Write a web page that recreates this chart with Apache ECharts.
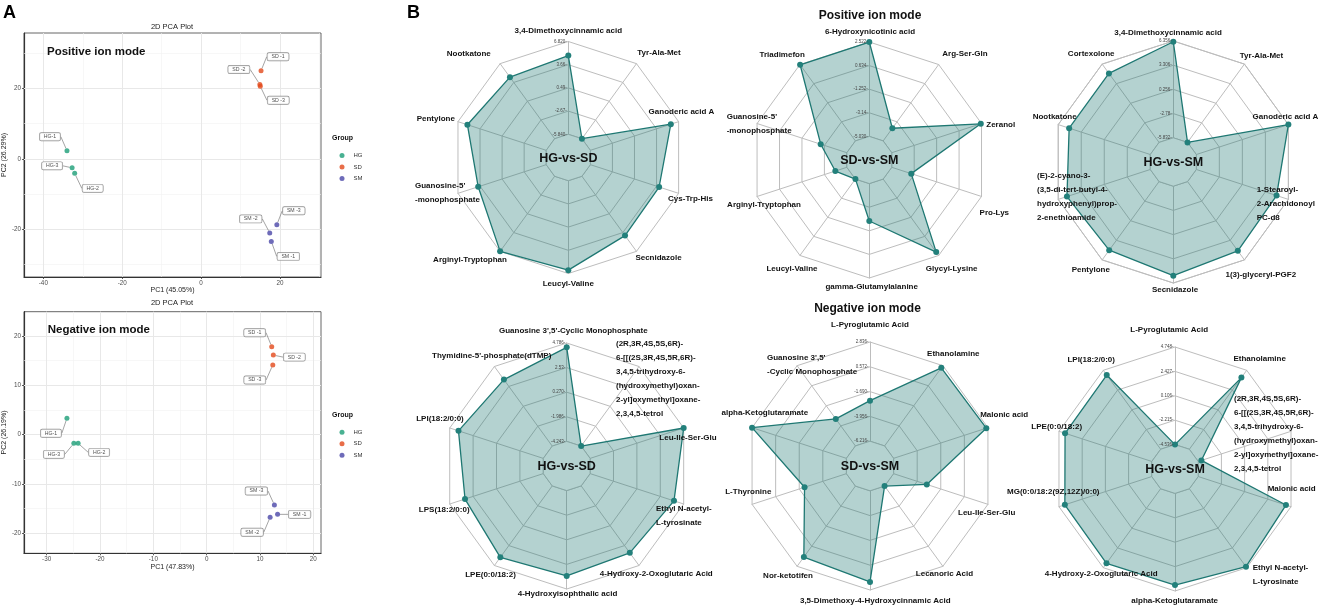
<!DOCTYPE html>
<html><head><meta charset="utf-8">
<script src="https://cdn.jsdelivr.net/npm/echarts@6/dist/echarts.min.js"></script>
<style>html,body{margin:0;padding:0;background:#fff}#c{width:1325px;height:609px}</style>
</head><body><div id="c"></div>
<script>
// ---------------- PCA data (panel A) ----------------
const groupNames = ['HG', 'SD', 'SM'];
const posHG = [[-34.0, 2.3], [-32.05, -4.1], [-32.7, -2.55]];
const posSD = [[15.2, 25.0], [14.9, 21.1], [15.0, 20.6]];
const posSM = [[17.8, -23.4], [17.4, -21.0], [19.2, -18.7]];
const negHG = [[-26.2, 3.3], [-24.1, -1.8], [-24.9, -1.8]];
const negSD = [[12.2, 17.8], [12.5, 16.1], [12.4, 14.1]];
const negSM = [[13.3, -16.2], [11.9, -16.8], [12.7, -14.3]];
const hgNames = ['HG-1', 'HG-2', 'HG-3'];
const sdNames = ['SD -1', 'SD -2', 'SD -3'];
const smNames = ['SM -1', 'SM -2', 'SM -3'];
const posXTicks = [-40, -20, 0, 20];
const posXMinor = [-30, -10, 10, 30];
const posYTicks = [-20, 0, 20];
const posYMinor = [-30, -10, 10, 30];
const negXTicks = [-30, -20, -10, 0, 10, 20];
const negXMinor = [-25, -15, -5, 5, 15];
const negYTicks = [-20, -10, 0, 10, 20];
const negYMinor = [-15, -5, 5, 15];

// ---------------- Radar data (panel B), clockwise from top ----------------
const r1Names = ['3,4-Dimethoxycinnamic acid', 'Tyr-Ala-Met', 'Ganoderic acid A', 'Cys-Trp-His', 'Secnidazole', 'Leucyl-Valine', 'Arginyl-Tryptophan', "Guanosine-5'\n-monophosphate", 'Pentylone', 'Nootkatone'];
const r1Values = [4.90, -5.84, 5.70, 4.02, 4.16, 6.36, 6.82, 3.92, 5.47, 4.54];
const r1Range = [-5.840, 6.820];
const r1TickLabels = ['-5.840', '-2.67', '0.49', '3.66', '6.820'];

const r2Names = ['6-Hydroxynicotinic acid', 'Arg-Ser-Gln', 'Zeranol', 'Pro-Lys', 'Glycyl-Lysine', 'gamma-Glutamylalanine', 'Leucyl-Valine', 'Arginyl-Tryptophan', "Guanosine-5'\n-monophosphate", 'Triadimefon'];
const r2Values = [2.52, -3.78, 2.46, -3.39, 2.19, -2.04, -5.03, -4.06, -2.83, 2.50];
const r2Range = [-5.030, 2.522];
const r2TickLabels = ['-5.030', '-3.14', '-1.252', '0.634', '2.522'];

const r3Names = ['3,4-Dimethoxycinnamic acid', 'Tyr-Ala-Met', 'Ganoderic acid A', '1-Stearoyl-\n2-Arachidonoyl\nPC-d8', '1(3)-glyceryl-PGF2', 'Secnidazole', 'Pentylone', '(E)-2-cyano-3-\n(3,5-di-tert-butyl-4-\nhydroxyphenyl)prop-\n2-enethioamide', 'Nootkatone', 'Cortexolone'];
const r3Values = [6.26, -5.832, 6.356, 4.79, 4.94, 5.43, 4.85, 5.20, 4.91, 4.91];
const r3Range = [-5.832, 6.356];
const r3TickLabels = ['-5.832', '-2.78', '0.256', '3.306', '6.356'];

const tetrol = '(2R,3R,4S,5S,6R)-\n6-[[(2S,3R,4S,5R,6R)-\n3,4,5-trihydroxy-6-\n(hydroxymethyl)oxan-\n2-yl]oxymethyl]oxane-\n2,3,4,5-tetrol';
const r4Names = ["Guanosine 3',5'-Cyclic Monophosphate", tetrol, 'Leu-Ile-Ser-Glu', 'Ethyl N-acetyl-\nL-tyrosinate', '4-Hydroxy-2-Oxoglutaric Acid', '4-Hydroxyisophthalic acid', 'LPE(0:0/18:2)', 'LPS(18:2/0:0)', 'LPI(18:2/0:0)', "Thymidine-5'-phosphate(dTMP)"];
const r4Values = [4.39, -4.243, 4.786, 3.85, 3.35, 3.59, 3.86, 3.31, 3.94, 3.30];
const r4Range = [-4.243, 4.786];
const r4TickLabels = ['-4.243', '-1.986', '0.270', '2.53', '4.786'];

const r5Names = ['L-Pyroglutamic Acid', 'Ethanolamine', 'Malonic acid', 'Leu-Ile-Ser-Glu', 'Lecanoric Acid', '3,5-Dimethoxy-4-Hydroxycinnamic Acid', 'Nor-ketotifen', 'L-Thyronine', 'alpha-Ketoglutaramate', "Guanosine 3',5'\n-Cyclic Monophosphate"];
const r5Values = [-2.52, 2.59, 2.68, -3.03, -6.216, 2.10, 1.79, -2.20, 2.836, -3.17];
const r5Range = [-6.216, 2.836];
const r5TickLabels = ['-6.216', '-3.956', '-1.690', '0.572', '2.836'];

const r6Names = ['L-Pyroglutamic Acid', 'Ethanolamine', tetrol, 'Malonic acid', 'Ethyl N-acetyl-\nL-tyrosinate', 'alpha-Ketoglutaramate', '4-Hydroxy-2-Oxoglutaric Acid', 'MG(0:0/18:2(9Z,12Z)/0:0)', 'LPE(0:0/18:2)', 'LPI(18:2/0:0)'];
const r6Values = [-4.536, 3.89, -4.22, 4.24, 4.63, 4.18, 4.23, 4.16, 4.14, 4.19];
const r6Range = [-4.536, 4.748];
const r6TickLabels = ['-4.536', '-2.215', '0.106', '2.427', '4.748'];

const radarTitles = ['HG-vs-SD', 'SD-vs-SM', 'HG-vs-SM', 'HG-vs-SD', 'SD-vs-SM', 'HG-vs-SM'];

// ---------------- layout (not data) ----------------
const FONT = '"Liberation Sans", Arial, Helvetica, sans-serif';
const teal = '#1f7873';
const groupColors = {HG: '#1b9e77', SD: '#e2491a', SM: '#4a46a8'};
const posOffsets = {HG: [[-17, -14], [18, 15], [-20, -2]], SD: [[17, -14], [-21, -15], [18, 14]], SM: [[17, 15], [-19, -14], [17, -14]]};
const negOffsets = {HG: [[-16, 15], [21, 9], [-20, 11]], SD: [[-17, -14], [21, 2], [-18, 15]], SM: [[22, 0], [-18, 15], [-18, -14]]};

const radarGeom = [
  {cx: 568.3, cy: 157.5, r: 116, lab: [[0,-126.5,'c'],[90.7,-105.2,'c'],[113.2,-45.5,'c'],[122.2,41.5,'c'],[90.2,100.5,'c'],[0,125.8,'c'],[-98.3,102.5,'c'],[-153.3,35.5,'l'],[-132.5,-38.5,'c'],[-99.5,-104.2,'c']]},
  {cx: 869.3, cy: 160, r: 118, lab: [[0.7,-128.3,'c'],[95.7,-106.7,'c'],[131.4,-35.7,'c'],[125,52.3,'c'],[82.4,108.3,'c'],[2.4,126.7,'c'],[-77.3,108.3,'c'],[-105.3,45,'c'],[-142.6,-35.8,'l'],[-87.1,-105.7,'c']]},
  {cx: 1173.3, cy: 162, r: 121, lab: [[-5.3,-129.7,'c'],[88.2,-106.3,'c'],[112.2,-45.3,'c'],[83.4,41.5,'l'],[87.5,113,'c'],[1.7,127.3,'c'],[-82.5,107.3,'c'],[-136.3,35,'l'],[-118.6,-45.3,'c'],[-82.1,-108.7,'c']]},
  {cx: 566.7, cy: 466, r: 123, lab: [[6.6,-135,'c'],[49.3,-86.8,'l'],[121.3,-28.7,'c'],[89.3,49.3,'l'],[89.6,107.3,'c'],[0.8,128,'c'],[-76.2,108.3,'c'],[-122.5,44,'c'],[-126.7,-47.7,'c'],[-75,-110,'c']]},
  {cx: 870, cy: 466, r: 124, lab: [[0,-141,'c'],[83.3,-112.7,'c'],[134.2,-51,'c'],[116.7,46.7,'c'],[74.5,108,'c'],[5.3,134.7,'c'],[-82,109.7,'c'],[-121.7,25.7,'c'],[-105.2,-53,'c'],[-103,-101,'l']]},
  {cx: 1175, cy: 469, r: 122, lab: [[-5.8,-139.7,'c'],[84.7,-110.7,'c'],[59,-35.7,'l'],[116.7,20,'c'],[77.7,105.7,'l'],[-0.3,131.7,'c'],[-73.8,105,'c'],[-121.7,22.7,'c'],[-118.3,-42.3,'c'],[-83.8,-109.7,'c']]}
];

const radarData = [
  {names: r1Names, values: r1Values, range: r1Range, ticks: r1TickLabels},
  {names: r2Names, values: r2Values, range: r2Range, ticks: r2TickLabels},
  {names: r3Names, values: r3Values, range: r3Range, ticks: r3TickLabels},
  {names: r4Names, values: r4Values, range: r4Range, ticks: r4TickLabels},
  {names: r5Names, values: r5Values, range: r5Range, ticks: r5TickLabels},
  {names: r6Names, values: r6Values, range: r6Range, ticks: r6TickLabels}
];

// ECharts lays indicators out counter-clockwise: reorder clockwise lists
const ccw = a => [a[0]].concat(a.slice(1).reverse());

const gridLineColor = '#e8e8e8';
function gridMarkLines(xMaj, xMin, yMaj, yMin) {
  const d = [];
  xMin.forEach(v => d.push({xAxis: v, lineStyle: {color: '#f2f2f2', width: 0.6, type: 'solid'}}));
  yMin.forEach(v => d.push({yAxis: v, lineStyle: {color: '#f2f2f2', width: 0.6, type: 'solid'}}));
  xMaj.forEach(v => d.push({xAxis: v, lineStyle: {color: gridLineColor, width: 1, type: 'solid'}}));
  yMaj.forEach(v => d.push({yAxis: v, lineStyle: {color: gridLineColor, width: 1, type: 'solid'}}));
  return {silent: true, symbol: ['none', 'none'], label: {show: false}, animation: false, z: 1, data: d};
}

function scatterSeries(gi, grp, pts, names, offsets, markLine) {
  const s = {
    type: 'scatter', name: grp, xAxisIndex: gi, yAxisIndex: gi, symbolSize: 5, z: 3,
    itemStyle: {color: groupColors[grp]},
    data: pts.map((p, i) => ({name: names[i], value: p})),
    label: {show: true, position: 'inside', formatter: '{b}', fontSize: 5.2, fontFamily: FONT, color: '#222',
      backgroundColor: '#fff', borderColor: '#777', borderWidth: 0.7, borderRadius: 1.5, padding: [1.5, 4, 1, 4]},
    labelLine: {show: true, lineStyle: {color: '#666', width: 0.6}},
    labelLayout: function (params) { const o = offsets[params.dataIndex]; return {dx: o[0], dy: o[1]}; },
    emphasis: {disabled: true}
  };
  if (markLine) s.markLine = markLine;
  return s;
}

function axisX(gi, min, max, ticks, name) {
  return {type: 'value', gridIndex: gi, min: min, max: max,
    axisLine: {show: true, onZero: false, lineStyle: {color: '#333', width: 1.2}},
    axisTick: {show: true, customValues: ticks, length: 2, lineStyle: {color: '#333', width: 0.8}},
    axisLabel: {customValues: ticks, fontSize: 6.3, color: '#4d4d4d', margin: 3, fontFamily: FONT},
    splitLine: {show: false},
    name: name, nameLocation: 'middle', nameGap: 10, nameTextStyle: {fontSize: 7, color: '#222', fontFamily: FONT}};
}
function axisY(gi, min, max, ticks, name) {
  return {type: 'value', gridIndex: gi, min: min, max: max,
    axisLine: {show: true, onZero: false, lineStyle: {color: '#333', width: 1.2}},
    axisTick: {show: true, customValues: ticks, length: 2, lineStyle: {color: '#333', width: 0.8}},
    axisLabel: {customValues: ticks, fontSize: 6.3, color: '#4d4d4d', margin: 3, fontFamily: FONT},
    splitLine: {show: false},
    name: name, nameLocation: 'middle', nameGap: 13, nameTextStyle: {fontSize: 7, color: '#222', fontFamily: FONT}};
}

const radarsOpt = [];
const coverRadars = [];
const radarSeries = [];
const graphics = [];

function txt(x, y, text, font, align, vAlign, fill, lineHeight) {
  graphics.push({type: 'text', x: x, y: y, z: 100, silent: true,
    style: {text: text, font: font, fill: fill || '#111', align: align, textAlign: align,
      verticalAlign: vAlign, textVerticalAlign: vAlign, lineHeight: lineHeight || undefined}});
}

radarData.forEach((rd, i) => {
  const g = radarGeom[i];
  const step = (rd.range[1] - rd.range[0]) / 4;
  const min = rd.range[0] - step, max = rd.range[1];
  const inds = ccw(rd.names).map(n => ({name: n, min: min, max: max}));
  radarsOpt.push({
    center: [g.cx, g.cy], radius: g.r, startAngle: 90, shape: 'polygon', splitNumber: 5, z: 0,
    indicator: inds,
    axisName: {show: false},
    axisLine: {lineStyle: {color: '#bdbdbd', width: 1}},
    axisTick: {show: false}, axisLabel: {show: false},
    splitLine: {lineStyle: {color: '#bdbdbd', width: 1}},
    splitArea: {show: false}
  });
  coverRadars.push({
    center: [g.cx, g.cy], radius: g.r * 0.2, startAngle: 90, shape: 'polygon', splitNumber: 1, z: 1,
    indicator: inds.map(d => ({name: '', min: 0, max: 1})),
    axisName: {show: false}, axisLine: {show: false}, axisTick: {show: false}, axisLabel: {show: false},
    splitLine: {lineStyle: {color: '#bdbdbd', width: 1}},
    splitArea: {show: true, areaStyle: {color: ['#ffffff']}}
  });
  radarSeries.push({
    type: 'radar', radarIndex: i, z: 2, silent: true, symbol: 'circle', symbolSize: 6,
    lineStyle: {color: teal, width: 1.3},
    itemStyle: {color: '#23807b'},
    areaStyle: {color: 'rgba(31,120,115,0.48)'},
    data: [{value: ccw(rd.values), name: radarTitles[i]}]
  });
  // tick labels on the top axis
  rd.ticks.forEach((t, k) => {
    txt(g.cx - 1.5, g.cy - g.r * (k + 1) / 5, t + '-', '4.5px ' + FONT, 'right', 'middle', '#444');
  });
  // indicator names
  rd.names.forEach((n, k) => {
    const L = g.lab[k];
    txt(g.cx + L[0], g.cy + L[1], n, 'bold 8px ' + FONT, L[2] === 'l' ? 'left' : 'center', 'middle', '#111', 14);
  });
  // centre title
  txt(g.cx, g.cy + 1, radarTitles[i], 'bold 12.5px ' + FONT, 'center', 'middle', '#111');
});

// panel texts
txt(3, 4, 'A', 'bold 18px ' + FONT, 'left', 'top', '#000');
txt(407, 4, 'B', 'bold 18px ' + FONT, 'left', 'top', '#000');
txt(172, 27, '2D PCA Plot', '7.5px ' + FONT, 'center', 'middle', '#222');
txt(172, 303, '2D PCA Plot', '7.5px ' + FONT, 'center', 'middle', '#222');
txt(47, 52, 'Positive ion mode', 'bold 11.5px ' + FONT, 'left', 'middle', '#111');
txt(47.7, 330, 'Negative ion mode', 'bold 11.5px ' + FONT, 'left', 'middle', '#111');
txt(332, 138, 'Group', 'bold 7px ' + FONT, 'left', 'middle', '#111');
txt(332, 415, 'Group', 'bold 7px ' + FONT, 'left', 'middle', '#111');
txt(870, 16, 'Positive ion mode', 'bold 12px ' + FONT, 'center', 'middle', '#111');
txt(867.5, 309, 'Negative ion mode', 'bold 12px ' + FONT, 'center', 'middle', '#111');

const legendBase = {orient: 'vertical', left: 334.5, itemWidth: 5, itemHeight: 5, itemGap: 5.5, icon: 'circle',
  selectedMode: false, data: groupNames, textStyle: {fontSize: 6, lineHeight: 6, color: '#333', fontFamily: FONT, padding: [0, 0, 0, 4]}};

const option = {
  animation: false,
  backgroundColor: '#fff',
  textStyle: {fontFamily: FONT},
  grid: [
    {left: 24, top: 33, width: 297, height: 244, show: true, borderColor: '#666', borderWidth: 1, backgroundColor: '#fff', containLabel: false, outerBoundsMode: 'none'},
    {left: 24, top: 311.7, width: 297, height: 241.6, show: true, borderColor: '#666', borderWidth: 1, backgroundColor: '#fff', containLabel: false, outerBoundsMode: 'none'}
  ],
  xAxis: [axisX(0, -44.9, 30.4, posXTicks, 'PC1 (45.05%)'), axisX(1, -34.25, 21.44, negXTicks, 'PC1 (47.83%)')],
  yAxis: [axisY(0, -33.5, 35.7, posYTicks, 'PC2 (26.29%)'), axisY(1, -24.1, 24.9, negYTicks, 'PC2 (26.19%)')],
  legend: [Object.assign({}, legendBase, {top: 147.5}), Object.assign({}, legendBase, {top: 424.2})],
  radar: radarsOpt.concat(coverRadars),
  series: [
    scatterSeries(0, 'HG', posHG, hgNames, posOffsets.HG, gridMarkLines(posXTicks, posXMinor, posYTicks, posYMinor)),
    scatterSeries(0, 'SD', posSD, sdNames, posOffsets.SD),
    scatterSeries(0, 'SM', posSM, smNames, posOffsets.SM),
    scatterSeries(1, 'HG', negHG, hgNames, negOffsets.HG, gridMarkLines(negXTicks, negXMinor, negYTicks, negYMinor)),
    scatterSeries(1, 'SD', negSD, sdNames, negOffsets.SD),
    scatterSeries(1, 'SM', negSM, smNames, negOffsets.SM)
  ].concat(radarSeries),
  graphic: {elements: graphics}
};

const chart = echarts.init(document.getElementById('c'), null, {renderer: 'canvas'});
chart.setOption(option);
</script>
</body></html>
